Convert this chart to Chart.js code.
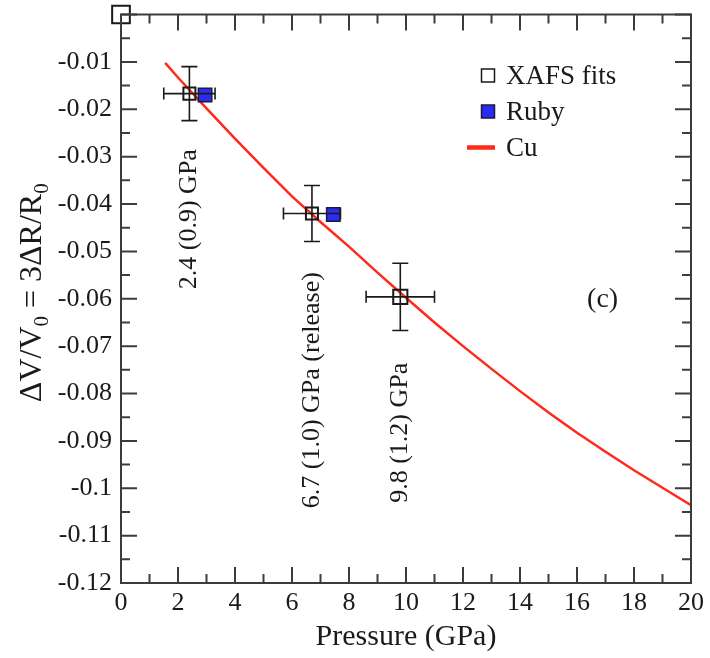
<!DOCTYPE html>
<html>
<head>
<meta charset="utf-8">
<script src="https://cdn.jsdelivr.net/npm/chart.js@4.4.1/dist/chart.umd.min.js"></script>
<style>
  html, body { margin: 0; padding: 0; background: #fff; }
  #wrap { width: 710px; height: 658px; }
</style>
</head>
<body>
<div id="wrap"><canvas id="c" width="710" height="658"></canvas></div>
<script>
// axis ticks
const pressureTicks = [0, 2, 4, 6, 8, 10, 12, 14, 16, 18, 20];
const volumeTicks = [-0.12, -0.11, -0.1, -0.09, -0.08, -0.07, -0.06, -0.05, -0.04, -0.03, -0.02, -0.01, 0];
const volumeTickLabels = ["-0.12", "-0.11", "-0.1", "-0.09", "-0.08", "-0.07", "-0.06", "-0.05", "-0.04", "-0.03", "-0.02", "-0.01", ""];

// XAFS fits with error bars
const xafsPressure = [0, 2.4, 6.7, 9.8];
const xafsPressureErr = [0, 0.9, 1.0, 1.2];
const xafsVolume = [0, -0.0167, -0.0420, -0.0596];
const xafsVolumeErr = [0, 0.0057, 0.0059, 0.0071];

// ruby gauge
const rubyPressure = [2.95, 7.45];
const rubyVolume = [-0.0170, -0.0422];

// Cu equation of state
const cuPressure = [1.55, 2, 3, 4, 5, 6, 7, 8, 9, 10, 11, 12, 13, 14, 15, 16, 17, 18, 19, 20];
const cuVolume = [-0.0102, -0.0133, -0.0198, -0.0262, -0.0324, -0.0384, -0.0438, -0.0490, -0.0545, -0.0598,
                  -0.0650, -0.0700, -0.0748, -0.0795, -0.0840, -0.0883, -0.0923, -0.0962, -0.0999, -0.1036];

const pointLabels = ["2.4 (0.9) GPa", "6.7 (1.0) GPa (release)", "9.8 (1.2) GPa"];

const FONT = "'Liberation Serif', 'Times New Roman', serif";
const INK = "#1a1a1a";
const FRAME = "#3c3c3c";

const xy = (xs, ys) => xs.map((x, i) => ({ x, y: ys[i] }));

// box around the plot with inward ticks on all four sides
const framePlugin = {
  id: "frame",
  afterDatasetsDraw(chart) {
    const { ctx, chartArea: a, scales: { x, y } } = chart;
    ctx.save();
    ctx.strokeStyle = FRAME;
    ctx.lineWidth = 2;
    ctx.beginPath();
    for (let p = 0; p <= 20; p++) {
      const px = x.getPixelForValue(p);
      const len = p % 2 === 0 ? 16 : 9;
      ctx.moveTo(px, a.bottom); ctx.lineTo(px, a.bottom - len);
      ctx.moveTo(px, a.top); ctx.lineTo(px, a.top + len);
    }
    for (let k = 0; k <= 24; k++) {
      const py = y.getPixelForValue(-0.005 * k);
      const len = k % 2 === 0 ? 16 : 9;
      ctx.moveTo(a.left, py); ctx.lineTo(a.left + len, py);
      ctx.moveTo(a.right, py); ctx.lineTo(a.right - len, py);
    }
    ctx.stroke();
    ctx.strokeRect(a.left, a.top, a.right - a.left, a.bottom - a.top);
    ctx.restore();
  }
};

const errorBarPlugin = {
  id: "errorBars",
  afterDatasetsDraw(chart) {
    const { ctx, scales: { x, y } } = chart;
    ctx.save();
    ctx.strokeStyle = INK;
    ctx.lineWidth = 1.6;
    ctx.beginPath();
    xafsPressure.forEach((p, i) => {
      const dx = xafsPressureErr[i], dy = xafsVolumeErr[i];
      if (!dx && !dy) return;
      const cx = x.getPixelForValue(p), cy = y.getPixelForValue(xafsVolume[i]);
      const x0 = x.getPixelForValue(p - dx), x1 = x.getPixelForValue(p + dx);
      const y0 = y.getPixelForValue(xafsVolume[i] + dy), y1 = y.getPixelForValue(xafsVolume[i] - dy);
      ctx.moveTo(x0, cy); ctx.lineTo(x1, cy);
      ctx.moveTo(x0, cy - 6); ctx.lineTo(x0, cy + 6);
      ctx.moveTo(x1, cy - 6); ctx.lineTo(x1, cy + 6);
      ctx.moveTo(cx, y0); ctx.lineTo(cx, y1);
      ctx.moveTo(cx - 8, y0); ctx.lineTo(cx + 8, y0);
      ctx.moveTo(cx - 8, y1); ctx.lineTo(cx + 8, y1);
    });
    ctx.stroke();
    ctx.restore();
  }
};

// rotated pressure notes, "(c)" panel tag, y title and legend
const notes = [
  { text: pointLabels[0], x: xafsPressure[1], y: -0.0432 },
  { text: pointLabels[1], x: xafsPressure[2], y: -0.0793 },
  { text: pointLabels[2], x: xafsPressure[3], y: -0.0883 }
];

const textPlugin = {
  id: "texts",
  afterDraw(chart) {
    const { ctx, chartArea: a, scales: { x, y } } = chart;
    ctx.save();
    ctx.fillStyle = INK;

    ctx.font = "26px " + FONT;
    ctx.textAlign = "center";
    ctx.textBaseline = "middle";
    notes.forEach(n => {
      ctx.save();
      ctx.translate(x.getPixelForValue(n.x), y.getPixelForValue(n.y));
      ctx.rotate(-Math.PI / 2);
      ctx.fillText(n.text, 0, 0);
      ctx.restore();
    });

    ctx.font = "28px " + FONT;
    ctx.fillText("(c)", x.getPixelForValue(16.9), y.getPixelForValue(-0.0602));

    // y title with subscripts
    const parts = [["\u0394V/V", false], ["0", true], [" = 3\u0394R/R", false], ["0", true]];
    const big = "32px " + FONT, small = "21px " + FONT;
    let total = 0;
    parts.forEach(([t, sub]) => { ctx.font = sub ? small : big; total += ctx.measureText(t).width; });
    ctx.save();
    ctx.translate(41, (a.top + a.bottom) / 2 - 6);
    ctx.rotate(-Math.PI / 2);
    ctx.textAlign = "left";
    ctx.textBaseline = "alphabetic";
    let cur = -total / 2;
    parts.forEach(([t, sub]) => {
      ctx.font = sub ? small : big;
      ctx.fillText(t, cur, sub ? 7 : 0);
      cur += ctx.measureText(t).width;
    });
    ctx.restore();

    // legend
    const lx = a.left + 367, rows = [a.top + 61, a.top + 97, a.top + 133];
    ctx.lineWidth = 1.5;
    ctx.strokeStyle = INK;
    ctx.strokeRect(lx - 6.5, rows[0] - 6.5, 13, 13);
    ctx.fillStyle = "#2b2bf2";
    ctx.fillRect(lx - 6.5, rows[1] - 6.5, 13, 13);
    ctx.strokeStyle = "#1a1a40";
    ctx.strokeRect(lx - 6.5, rows[1] - 6.5, 13, 13);
    ctx.strokeStyle = "#ff2a1a";
    ctx.lineWidth = 4.5;
    ctx.beginPath();
    ctx.moveTo(lx - 21, rows[2]); ctx.lineTo(lx + 7, rows[2]);
    ctx.stroke();
    ctx.fillStyle = INK;
    ctx.font = "27px " + FONT;
    ctx.textAlign = "left";
    ctx.textBaseline = "middle";
    ["XAFS fits", "Ruby", "Cu"].forEach((t, i) => ctx.fillText(t, lx + 18, rows[i] + 1));
    ctx.restore();
  }
};

new Chart(document.getElementById("c").getContext("2d"), {
  type: "scatter",
  data: {
    datasets: [
      {
        label: "XAFS fits",
        data: xy(xafsPressure, xafsVolume),
        pointStyle: "rect",
        pointRadius: [12.5, 8.5, 8.5, 10],
        borderColor: INK,
        backgroundColor: "rgba(255,255,255,0)",
        borderWidth: 2,
        clip: false
      },
      {
        label: "Ruby",
        data: xy(rubyPressure, rubyVolume),
        pointStyle: "rect",
        pointRadius: 9.5,
        backgroundColor: "#2b2bf2",
        borderColor: "#1a1a40",
        borderWidth: 1.5
      },
      {
        label: "Cu",
        type: "line",
        data: xy(cuPressure, cuVolume),
        borderColor: "#ff2a1a",
        borderWidth: 2.5,
        pointRadius: 0,
        tension: 0,
        fill: false
      }
    ]
  },
  options: {
    responsive: false,
    animation: false,
    events: [],
    layout: { padding: { top: 11, right: 19, left: 0, bottom: 4 } },
    plugins: { legend: { display: false }, tooltip: { enabled: false } },
    scales: {
      x: {
        type: "linear",
        min: 0,
        max: 20,
        afterBuildTicks: s => { s.ticks = pressureTicks.map(v => ({ value: v })); },
        afterFit: s => { s.height = 71; s.paddingLeft = 0; s.paddingRight = 0; },
        grid: { display: false, drawTicks: false },
        border: { display: false },
        ticks: { padding: 5, autoSkip: false, maxRotation: 0, color: INK, font: { family: FONT, size: 26 } },
        title: {
          display: true,
          text: "Pressure (GPa)",
          color: INK,
          font: { family: FONT, size: 30, lineHeight: 1 },
          padding: { top: 0, bottom: 2 }
        }
      },
      y: {
        type: "linear",
        min: -0.12,
        max: 0,
        afterBuildTicks: s => { s.ticks = volumeTicks.map(v => ({ value: v })); },
        afterFit: s => { s.width = 121; s.paddingTop = 0; s.paddingBottom = 0; },
        grid: { display: false, drawTicks: false },
        border: { display: false },
        ticks: {
          padding: 9,
          autoSkip: false,
          color: INK,
          font: { family: FONT, size: 26 },
          callback: (v, i) => volumeTickLabels[i]
        }
      }
    }
  },
  plugins: [errorBarPlugin, framePlugin, textPlugin]
});
</script>
</body>
</html>
